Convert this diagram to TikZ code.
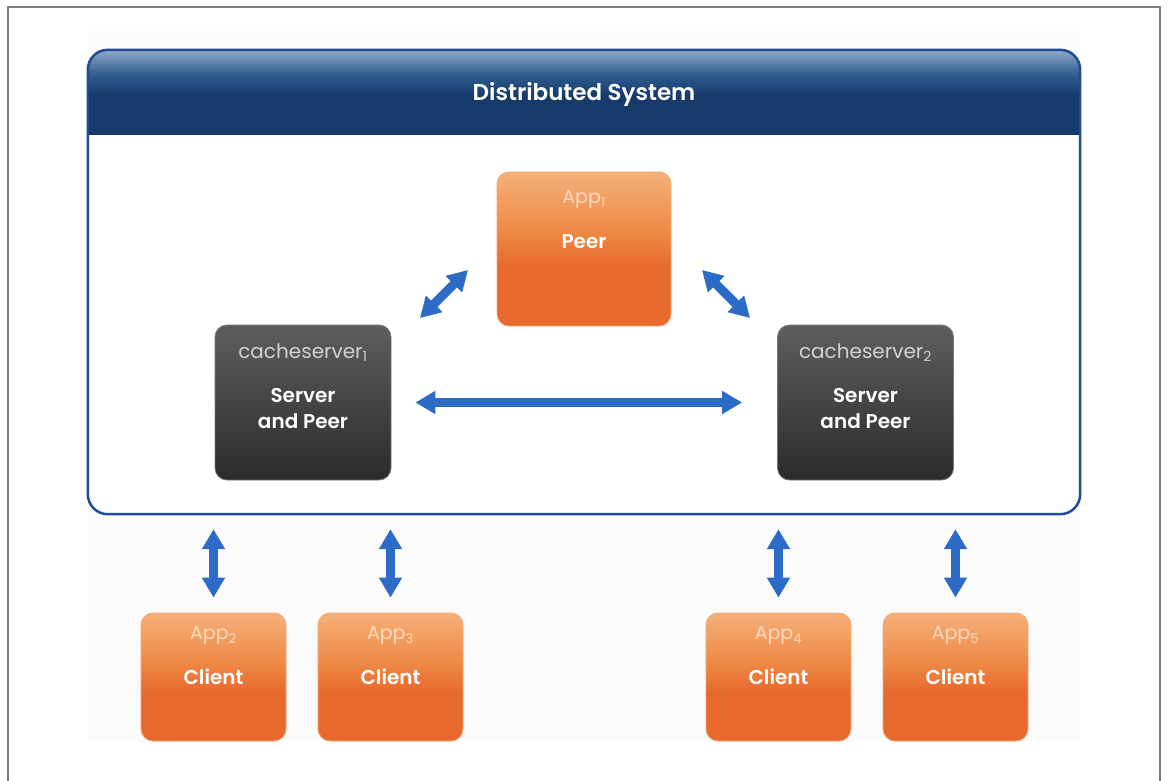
\documentclass[tikz,border=0pt]{standalone}
\usepackage{fontspec}
\setmainfont{Poppins}[BoldFont={Poppins SemiBold}]
\usetikzlibrary{arrows.meta,calc}

\definecolor{navy}{HTML}{163A6A}
\definecolor{navymid}{HTML}{2F5A8E}
\definecolor{navylight}{HTML}{8FAAC8}
\definecolor{sysline}{HTML}{1F4C94}
\definecolor{orTop}{HTML}{F6B07A}
\definecolor{orMid}{HTML}{EE8A46}
\definecolor{orBot}{HTML}{E7692D}
\definecolor{orEdge}{HTML}{F2A772}
\definecolor{gyTop}{HTML}{5E5E5E}
\definecolor{gyBot}{HTML}{2B2B2B}
\definecolor{gyEdge}{HTML}{777777}
\definecolor{arrowblue}{HTML}{2C6CC6}
\definecolor{framegray}{HTML}{7A7A7A}
\definecolor{haze}{HTML}{FBFBFC}
\definecolor{peach}{HTML}{FCD9BF}
\definecolor{silver}{HTML}{D2D2D2}

% vertical shadings: stops 25bp..75bp span the filled shape
\pgfdeclareverticalshading{hdrshade}{100bp}{color(0bp)=(navy); color(25bp)=(navy); color(48bp)=(navy); color(60bp)=(navymid); color(75bp)=(navylight); color(100bp)=(navylight)}
\pgfdeclareverticalshading{orshade}{100bp}{color(0bp)=(orBot); color(25bp)=(orBot); color(44bp)=(orBot); color(56bp)=(orMid); color(75bp)=(orTop); color(100bp)=(orTop)}
\pgfdeclareverticalshading{gyshade}{100bp}{color(0bp)=(gyBot); color(25bp)=(gyBot); color(75bp)=(gyTop); color(100bp)=(gyTop)}

\begin{document}
\begin{tikzpicture}[x=1pt,y=-1pt,
  orbox/.style={shading=orshade, draw=orEdge, line width=0.8pt, rounded corners=12pt},
  gybox/.style={shading=gyshade, draw=gyEdge, line width=0.8pt, rounded corners=12pt},
  clientbox/.style={orbox, minimum width=145pt, minimum height=128pt},
  serverbox/.style={gybox, minimum width=176pt, minimum height=155pt},
  apptext/.style={text=peach, font=\fontsize{19}{21}\selectfont, inner sep=0pt},
  cstext/.style={text=silver, font=\fontsize{20}{22}\selectfont, inner sep=0pt},
  roletext/.style={text=white, font=\bfseries\fontsize{20}{26}\selectfont, align=center, inner sep=0pt},
  biarrow/.style={draw=arrowblue, line width=9pt,
    {Triangle[length=20pt,width=22pt]}-{Triangle[length=20pt,width=22pt]}},
]
\useasboundingbox (0,0) rectangle (1168,780);

% page frame and faint backdrop
\fill[white] (0,0) rectangle (1168,780);
\fill[haze] (88,31) rectangle (1080,742);
\draw[framegray, line width=2pt] (8,790) -- (8,7) -- (1160,7) -- (1160,790);

% distributed system container with its header band
\node[minimum width=992pt, minimum height=464pt, inner sep=0pt] (sys) at (584,282) {};
\fill[white, rounded corners=20pt] (sys.north west) rectangle (sys.south east);
\begin{scope}
  \clip[rounded corners=20pt] (sys.north west) rectangle (sys.south east);
  \shade[shading=hdrshade] (sys.north west) rectangle ($(sys.north east)+(0,85)$);
\end{scope}
\draw[sysline, line width=2.5pt, rounded corners=20pt] (sys.north west) rectangle (sys.south east);
\node[text=white, font=\fontsize{23}{27}\selectfont\bfseries, inner sep=0pt] (title) at ($(sys.north)+(0,45)$) {Distributed System};

% peer application
\node[orbox, minimum width=174pt, minimum height=154pt] (app1) at (584,249) {};
\node[apptext] (app1n) at ($(app1.north)+(0,28)$) {App\textsubscript{1}};
\node[roletext] (app1r) at ($(app1.north)+(0,70)$) {Peer};

% cache servers
\node[serverbox] (cs1) at (303,402.5) {};
\node[cstext] (cs1n) at ($(cs1.north)+(0,28)$) {cacheserver\textsubscript{1}};
\node[roletext] (cs1r) at ($(cs1.north)+(0,84)$) {Server\\and Peer};

\node[serverbox] (cs2) at (865.5,402.5) {};
\node[cstext] (cs2n) at ($(cs2.north)+(0,28)$) {cacheserver\textsubscript{2}};
\node[roletext] (cs2r) at ($(cs2.north)+(0,84)$) {Server\\and Peer};

% clients
\foreach \n/\x in {2/213.5, 3/390.5, 4/778.5, 5/955.5}{
  \node[clientbox] (app\n) at (\x,677) {};
  \node[apptext] (app\n n) at ($(app\n.north)+(0,23)$) {App\textsubscript{\n}};
  \node[roletext] (app\n r) at (app\n.center) {Client};
}

% peer-to-peer links inside the system
\coordinate (l1a) at (420,318);
\coordinate (l1b) at (468,270);
\coordinate (l2a) at (702,270);
\coordinate (l2b) at (750,318);
\draw[biarrow] (l1a) -- (l1b);
\draw[biarrow] (l2a) -- (l2b);
\draw[biarrow, shorten <=24pt, shorten >=35pt] (cs1.east) -- (cs2.west);

% client-server links
\foreach \n in {2,3,4,5}{
  \draw[biarrow, shorten <=15pt, shorten >=15pt] (app\n.north |- sys.south) -- (app\n.north);
}
\end{tikzpicture}
\end{document}
